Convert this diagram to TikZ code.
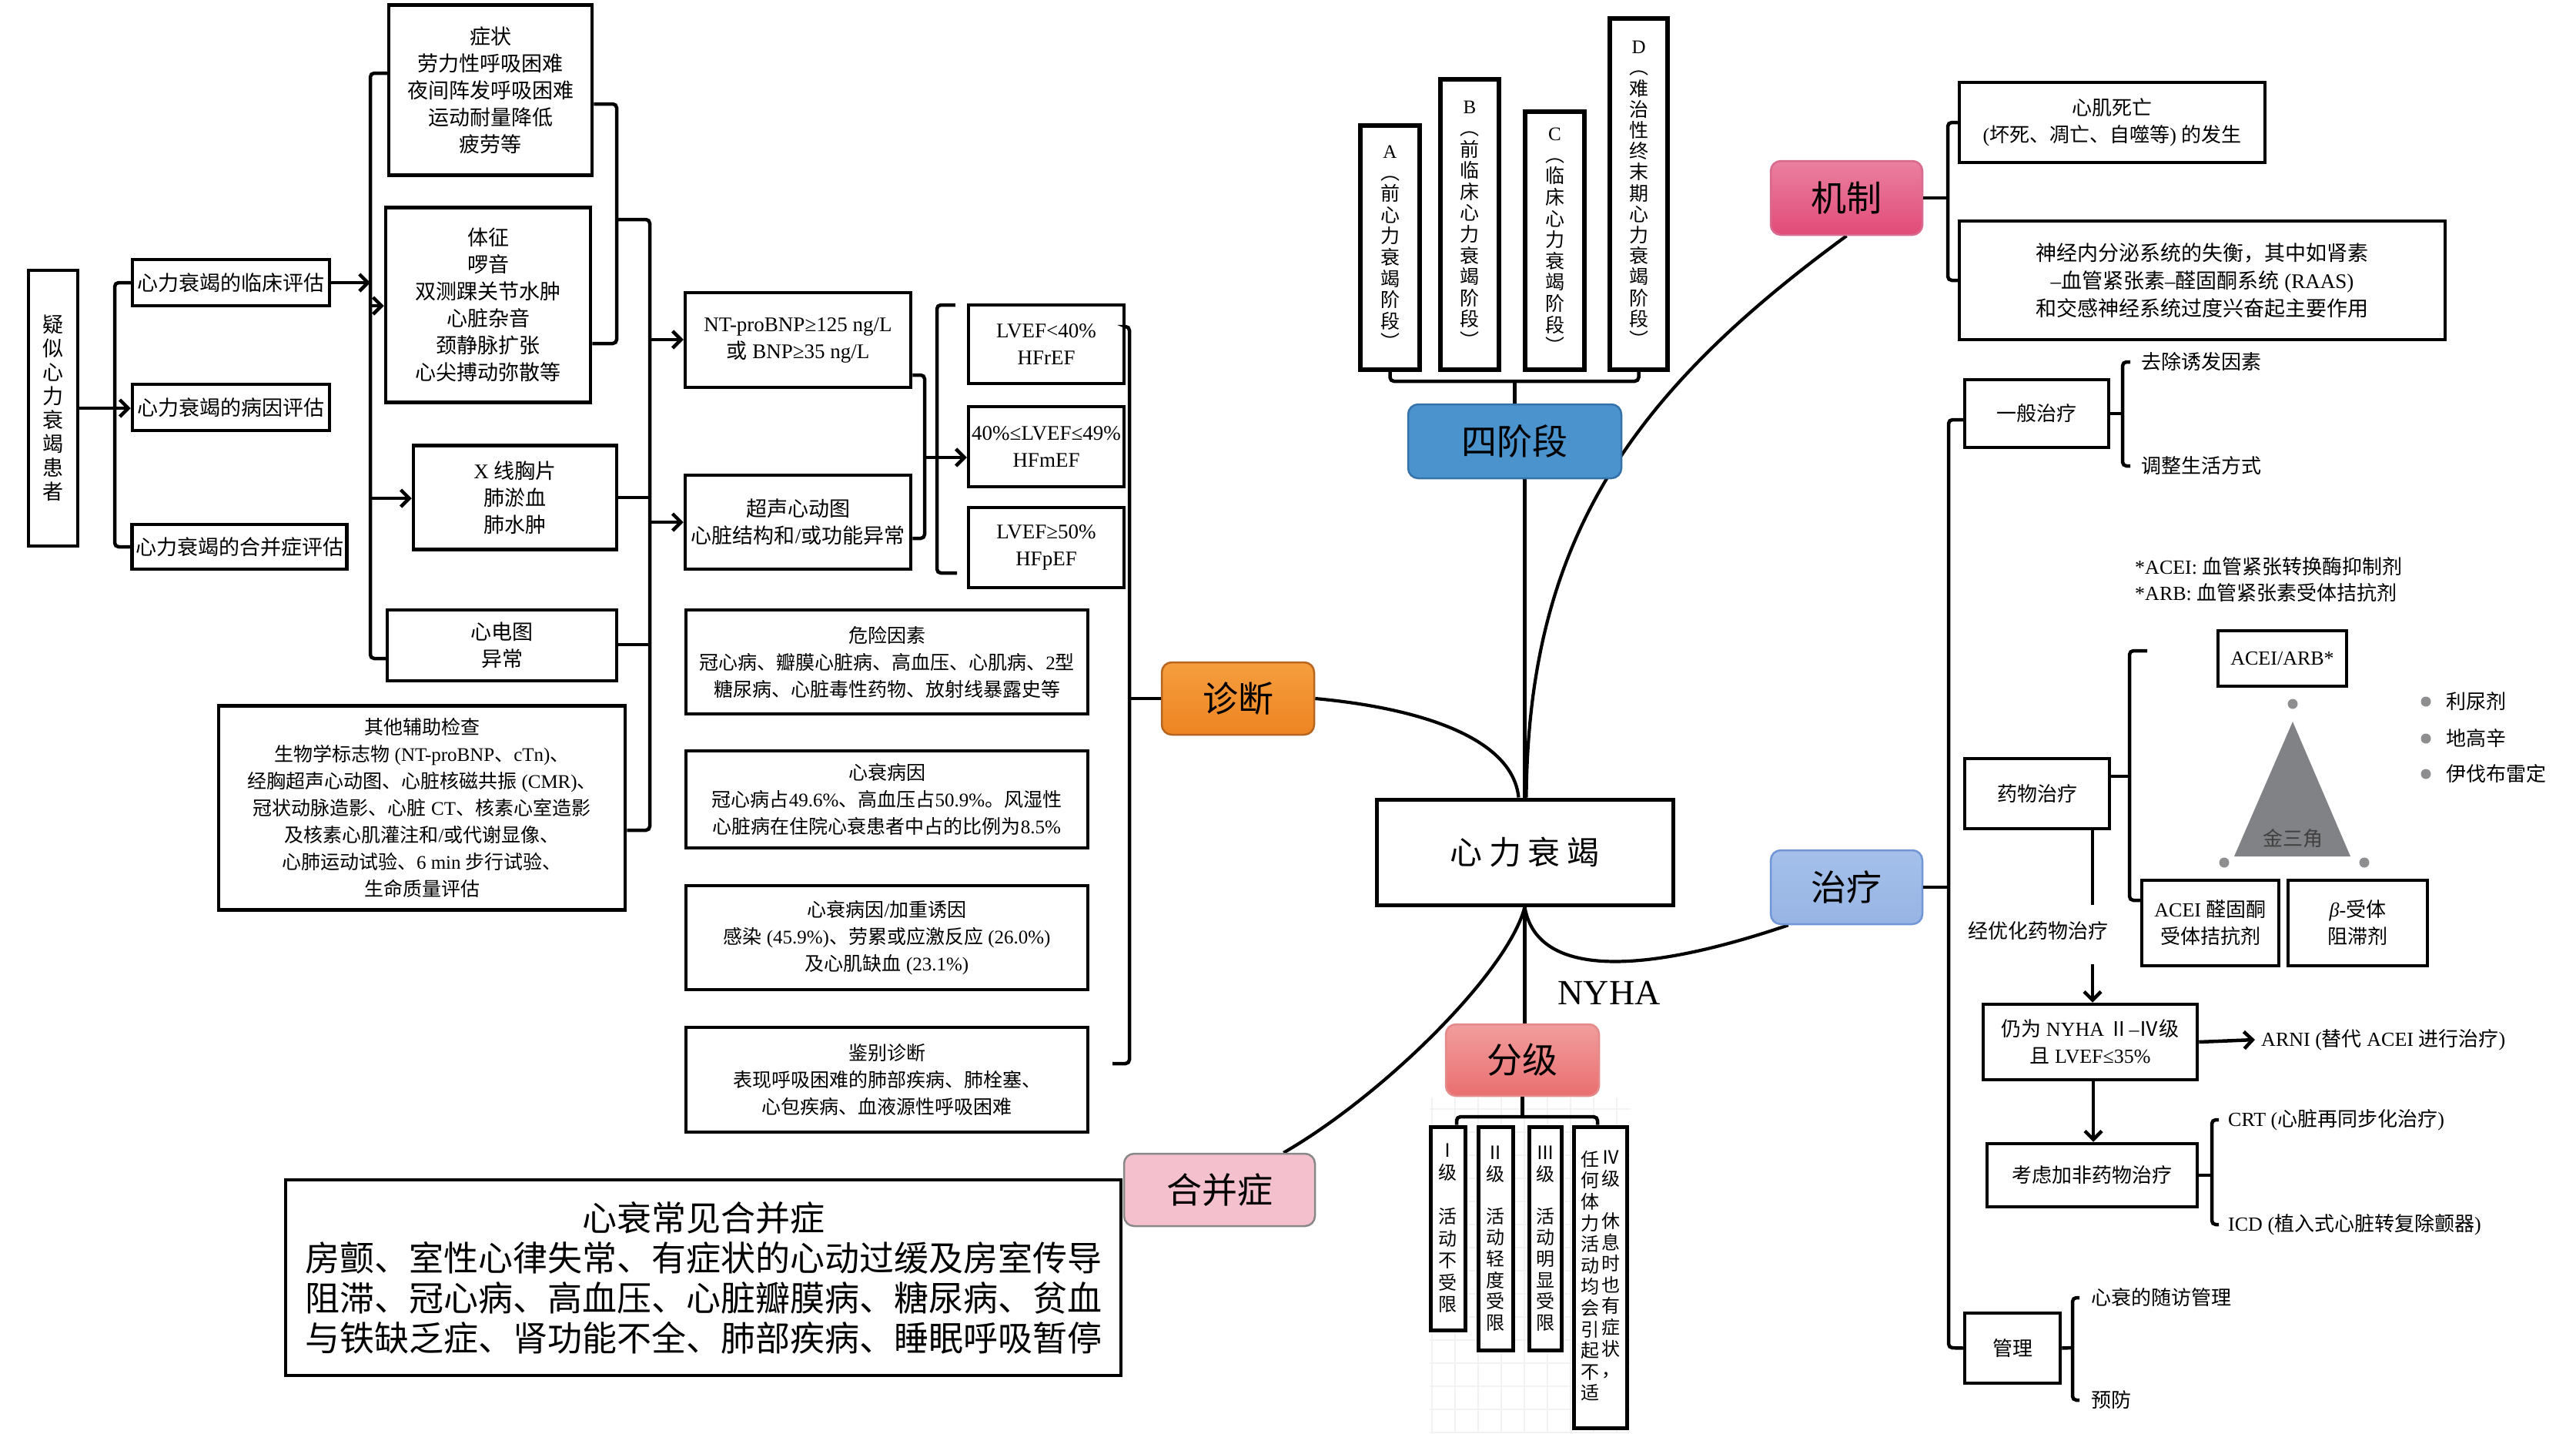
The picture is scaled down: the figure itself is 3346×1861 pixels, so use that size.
\documentclass[tikz,border=0pt]{standalone}
\usepackage{fontspec}
\setmainfont{Liberation Serif}
\newfontfamily\cjkf{Noto Sans CJK SC}
\usetikzlibrary{arrows.meta,calc}
\pgfdeclarelayer{bg}
\pgfsetlayers{bg,main}
\XeTeXinterchartokenstate=1
\chardef\cjkcls=7
\newcount\mycnt
\newcommand\setcjkrange[2]{\mycnt=#1\relax
  \loop\XeTeXcharclass\mycnt=\cjkcls\relax
  \ifnum\mycnt<#2\relax\advance\mycnt by 1\relax\repeat}
\setcjkrange{"2E80}{"9FFF}
\setcjkrange{"FF00}{"FFEF}
\setcjkrange{"FE30}{"FE4F}
\setcjkrange{"2150}{"218F}
\XeTeXinterchartoks 0 \cjkcls = {\cjkf}
\XeTeXinterchartoks 4095 \cjkcls = {\cjkf}
\XeTeXinterchartoks \cjkcls 0 = {\rmfamily}
\XeTeXinterchartoks \cjkcls 4095 = {\rmfamily}
\newcommand\myfs[2]{\fontsize{#1}{#2}\selectfont}
\definecolor{czd1}{HTML}{F59E3E}\definecolor{czd2}{HTML}{EE8422}\definecolor{czdb}{HTML}{B5651D}
\definecolor{csj}{HTML}{4A93CD}\definecolor{csjb}{HTML}{3572AA}
\definecolor{cjz1}{HTML}{EA80A0}\definecolor{cjz2}{HTML}{E14B78}\definecolor{cjzb}{HTML}{D86A8D}
\definecolor{czl1}{HTML}{A4C0EA}\definecolor{czl2}{HTML}{97B4E4}\definecolor{czlb}{HTML}{7196D8}
\definecolor{cfj1}{HTML}{F19D9D}\definecolor{cfj2}{HTML}{EA6F70}\definecolor{cfjb}{HTML}{E58A8A}
\definecolor{chb}{HTML}{F5C0CE}\definecolor{chbb}{HTML}{888888}
\definecolor{ctri}{HTML}{808285}\definecolor{cdot}{HTML}{8E8E90}
\tikzset{
  sz/.style 2 args={minimum width=#1pt,minimum height=#2pt},
  bx/.style={draw, fill=white, line width=4.5pt, inner sep=0pt, align=center, font=\myfs{27}{35}},
  hub/.style={draw, rounded corners=13pt, line width=2.5pt, inner sep=0pt, font=\myfs{46}{50}},
  ln/.style={line width=4.5pt, rounded corners=5pt},
  cv/.style={line width=4.2pt},
  arr/.style={line width=4.5pt, -{Straight Barb[length=11pt,width=22pt]}},
  lab/.style={inner sep=0pt, anchor=west, font=\myfs{26}{30}},
  vt/.style={inner sep=0pt, align=center, anchor=north, font=\myfs{24}{27.6}},
  stg/.style={bx, line width=6pt, font=\myfs{25}{27.6}},
}
\begin{document}
\begin{tikzpicture}[x=1pt,y=-1pt]
\useasboundingbox (0,0) rectangle (3346,1861);

% ---------------- left: diagnosis tree
\node[bx, sz={64}{358}, font=\myfs{27}{31}] (pat) at (69,530) {疑\\似\\心\\力\\衰\\竭\\患\\者};
\node[bx, sz={256}{60}] (lc) at (300,367) {心力衰竭的临床评估};
\node[bx, sz={256}{60}] (by) at (300,529) {心力衰竭的病因评估};
\node[bx, sz={279}{58}] (hb) at (311,710) {心力衰竭的合并症评估};

\node[bx, sz={264}{221}] (zz) at (637,117) {症状\\劳力性呼吸困难\\夜间阵发呼吸困难\\运动耐量降低\\疲劳等};
\node[bx, sz={266}{253}] (tz) at (634,396) {体征\\啰音\\双测踝关节水肿\\心脏杂音\\颈静脉扩张\\心尖搏动弥散等};
\node[bx, sz={264}{135}] (xx) at (669,646) {X 线胸片\\肺淤血\\肺水肿};
\node[bx, sz={298}{92}] (xd) at (652,838) {心电图\\异常};
\node[bx, sz={528}{265}, font=\myfs{25}{35}] (qt) at (548,1049) {其他辅助检查\\生物学标志物 (NT-proBNP、cTn)、\\经胸超声心动图、心脏核磁共振 (CMR)、\\冠状动脉造影、心脏 CT、核素心室造影\\及核素心肌灌注和/或代谢显像、\\心肺运动试验、6 min 步行试验、\\生命质量评估};

\node[bx, sz={293}{123}] (nt) at (1036.5,441.5) {NT-proBNP≥125 ng/L\\或 BNP≥35 ng/L};
\node[bx, sz={293}{122}] (cs) at (1036.5,678) {超声心动图\\心脏结构和/或功能异常};

\node[bx, sz={202}{102}] (L1) at (1359,447) {LVEF<40\%\\HFrEF};
\node[bx, sz={202}{104}] (L2) at (1359,580) {40\%≤LVEF≤49\%\\HFmEF};
\node[bx, sz={202}{104}] (L3) at (1359,711) {LVEF≥50\%\\HFpEF};

\node[bx, sz={522}{135}, font=\myfs{25}{35}] (wx) at (1152,859.5) {危险因素\\冠心病、瓣膜心脏病、高血压、心肌病、2型\\糖尿病、心脏毒性药物、放射线暴露史等};
\node[bx, sz={522}{126}, font=\myfs{25}{35}] (bya) at (1152,1038) {心衰病因\\冠心病占49.6\%、高血压占50.9\%。风湿性\\心脏病在住院心衰患者中占的比例为8.5\%};
\node[bx, sz={522}{135}, font=\myfs{25}{35}] (yy) at (1152,1217.5) {心衰病因/加重诱因\\感染 (45.9\%)、劳累或应激反应 (26.0\%)\\及心肌缺血 (23.1\%)};
\node[bx, sz={522}{136}, font=\myfs{25}{35}] (jb) at (1152,1402) {鉴别诊断\\表现呼吸困难的肺部疾病、肺栓塞、\\心包疾病、血液源性呼吸困难};

% connectors left
\draw[arr] (pat.east) -- (pat.east -| by.west);
\draw[ln] (lc.west) -| (149,710) -- (hb.west);
\draw[arr] (lc.east) -- (481,367);
\draw[ln] (zz.west |- 0,95) -| (481,855) -- (xd.west |- 0,855);
\draw[arr] (481,397) -- (tz.west |- 0,397);
\draw[arr] (481,647) -- (xx.west |- 0,647);
\draw[ln] (zz.east |- 0,135) -| (801,446) -- (tz.east |- 0,446);
\draw[ln] (801,285) -| (844,1078) -- (qt.east |- 0,1078);
\draw[ln] (xx.east) -- (844,646);
\draw[ln] (xd.east |- 0,837) -- (844,837);
\draw[arr] (844,441) -- (nt.west |- 0,441);
\draw[arr] (844,678) -- (cs.west);
\draw[ln] (nt.east |- 0,487) -| (1201,699) -- (cs.east |- 0,699);
\draw[arr] (1201,594) -- (L2.west |- 0,594);
\draw[ln] (L1.west |- 0,396) ++(-15,0) -- (1217,396) -- (1217,744) -- (1243,744);
\draw[ln] (L1.east |- 0,424) -| (1467,1381) -- (1445,1381);

% ---------------- hubs
\node[hub, top color=czd1, bottom color=czd2, draw=czdb, sz={198}{94}] (zd) at (1608,907) {诊断};
\draw[ln] (1467,907) -- (zd.west);

\node[bx, line width=5pt, sz={385}{137}, font=\myfs{42}{46}] (xl) at (1980.5,1106.5) {心\hspace{9pt}力\hspace{9pt}衰\hspace{9pt}竭};

% stages
\node[stg, sz={77}{317}] (sA) at (1805.5,321.5) {A\\︵\\前\\心\\力\\衰\\竭\\阶\\段\\︶};
\node[stg, sz={76}{377}] (sB) at (1909,291.5) {B\\︵\\前\\临\\床\\心\\力\\衰\\竭\\阶\\段\\︶};
\node[stg, sz={77}{335}] (sC) at (2019.5,312.5) {C\\︵\\临\\床\\心\\力\\衰\\竭\\阶\\段\\︶};
\node[stg, sz={75}{456}, font=\myfs{25}{27.2}] (sD) at (2128.5,252) {D\\︵\\难\\治\\性\\终\\末\\期\\心\\力\\衰\\竭\\阶\\段\\︶};
\node[hub, fill=csj, draw=csjb, sz={277}{96}] (sjd) at (1967.5,573) {四阶段};
\draw[ln] (sA.south) -- (sA.south |- 0,495) -| (sD.south);
\draw[ln] (sjd.north) -- (sjd.north |- 0,495);

% grades
\node[hub, top color=cfj1, bottom color=cfj2, draw=cfjb, sz={199}{93}] (fj) at (1977.5,1376.5) {分级};
\node[inner sep=0pt, font=\myfs{46}{50}] (nyha) at (2090,1289) {NYHA};
\node[bx, line width=5pt, sz={45}{264}, font=\myfs{24}{28.6}] (g1) at (1880.5,1595) {Ⅰ\\级\\\mbox{}\\活\\动\\不\\受\\限};
\node[bx, line width=5pt, sz={45}{290}, font=\myfs{24}{27.6}] (g2) at (1942.5,1608) {Ⅱ\\级\\\mbox{}\\活\\动\\轻\\度\\受\\限};
\node[bx, line width=5pt, sz={42}{290}, font=\myfs{24}{27.6}] (g3) at (2007,1608) {Ⅲ\\级\\\mbox{}\\活\\动\\明\\显\\受\\限};
\node[bx, line width=5pt, sz={69}{391}] (g4) at (2078.5,1658.5) {};
\node[vt] (g4r) at (2092,1494) {Ⅳ\\级\\\mbox{}\\休\\息\\时\\也\\有\\症\\状\\，};
\node[vt] (g4l) at (2065,1494) {任\\何\\体\\力\\活\\动\\均\\会\\引\\起\\不\\适};
\draw[ln] (fj.south) -- (fj.south |- 0,1450);
\draw[ln] (g1.north -| 1892,0) |- (2075,1450) -- (g4.north -| 2075,0);

% comorbidity
\node[hub, fill=chb, draw=chbb, sz={248}{94}] (hbz) at (1584,1545) {合并症};
\node[bx, sz={1085}{254}, font=\myfs{45}{52}] (hbx) at (913.5,1659) {心衰常见合并症\\房颤、室性心律失常、有症状的心动过缓及房室传导\\阻滞、冠心病、高血压、心脏瓣膜病、糖尿病、贫血\\与铁缺乏症、肾功能不全、肺部疾病、睡眠呼吸暂停};

% mechanism
\node[hub, top color=cjz1, bottom color=cjz2, draw=cjzb, sz={197}{96}] (jz) at (2398.5,257) {机制};
\node[bx, sz={397}{104}, font=\myfs{26}{35}] (sw) at (2743.5,159) {心肌死亡\\(坏死、凋亡、自噬等) 的发生};
\node[bx, sz={631}{154}, font=\myfs{27}{36}] (sj) at (2860.5,364) {神经内分泌系统的失衡，其中如肾素\\–血管紧张素–醛固酮系统 (RAAS)\\和交感神经系统过度兴奋起主要作用};
\draw[ln] (jz.east) -- (2530,257);
\draw[ln] (sw.west) -| (2530,364) -- (sj.west);

% treatment
\node[hub, top color=czl1, bottom color=czl2, draw=czlb, sz={197}{96}] (zl) at (2398.5,1152) {治疗};
\node[bx, sz={187}{88}, font=\myfs{26}{35}] (yb) at (2645.5,537) {一般治疗};
\node[bx, sz={188}{91}, font=\myfs{26}{35}] (yw) at (2646,1030.5) {药物治疗};
\node[bx, sz={124}{91}, font=\myfs{26}{35}] (gl) at (2614,1750.5) {管理};
\draw[ln] (zl.east) -- (2531,1152);
\draw[ln] (yb.west |- 0,545) -| (2531,1750) -- (gl.west);

\node[lab] (qc) at (2781,470) {去除诱发因素};
\node[lab] (tzs) at (2781,605) {调整生活方式};
\draw[ln] (yb.east) -- (2757,537);
\draw[ln] ($(qc.west)+(-14,0)$) -- ($(qc.west)+(-24,0)$) |- ($(tzs.west)+(-14,0)$);

\node[lab] (n1) at (2773,736) {*ACEI: 血管紧张转换酶抑制剂};
\node[lab] (n2) at (2773,770) {*ARB: 血管紧张素受体拮抗剂};

\node[bx, sz={167}{72}, font=\myfs{26}{35}] (ab) at (2964.5,855) {ACEI/ARB*};
\fill[ctri] (2978,937) -- (2902,1112) -- (3053,1112) -- cycle;
\node[inner sep=0pt, font=\myfs{26}{30}, text=black!75] (jsj) at (2978,1089) {金三角};
\fill[cdot] (2978,914) circle (6.5);
\fill[cdot] (2889,1120) circle (6.5);
\fill[cdot] (3071,1120) circle (6.5);
\fill[cdot] (3151,911) circle (6.5);
\fill[cdot] (3151,959) circle (6.5);
\fill[cdot] (3151,1005) circle (6.5);
\node[lab] (b1) at (3177,911) {利尿剂};
\node[lab] (b2) at (3177,959) {地高辛};
\node[lab] (b3) at (3177,1005) {伊伐布雷定};

\node[bx, sz={178}{111}, font=\myfs{26}{35}] (ac) at (2871,1198.5) {ACEI 醛固酮\\受体拮抗剂};
\node[bx, sz={181}{111}, font=\myfs{26}{35}] (bt) at (3062.5,1198.5) {\textit{β}-受体\\阻滞剂};
\coordinate (tk) at (2789,845);
\draw[ln] (yw.east |- 0,1008) -- (2766,1008);
\draw[ln] (tk) -| (2766,1169) -- (ac.west |- 0,1169);

\node[inner sep=0pt, font=\myfs{26}{30}] (jyh) at (2647,1209) {经优化药物治疗};
\coordinate (je) at (2718,1175);
\coordinate (js) at (2718,1252);
\draw[line width=4.5pt] (yw.south -| je) -- (je);
\node[bx, sz={278}{98}, font=\myfs{26}{35}] (ny) at (2715,1353) {仍为 NYHA Ⅱ–Ⅳ级\\且 LVEF≤35\%};
\draw[arr] (js) -- (ny.north -| js);
\node[lab] (arni) at (2937,1350) {ARNI (替代 ACEI 进行治疗)};
\draw[arr] (ny.east) -- ($(arni.west)+(-8,0)$);
\node[bx, sz={273}{82}, font=\myfs{26}{35}] (kl) at (2717.5,1526) {考虑加非药物治疗};
\draw[arr] (ny.south -| 2719,0) -- (kl.north -| 2719,0);
\node[lab] (crt) at (2894,1454) {CRT (心脏再同步化治疗)};
\node[lab] (icd) at (2894,1590) {ICD (植入式心脏转复除颤器)};
\draw[ln] (kl.east) -- (2873,1526);
\draw[ln] ($(crt.west)+(-12,0)$) -- ($(crt.west)+(-21,0)$) |- ($(icd.west)+(-12,0)$);
\node[lab] (sf) at (2716,1685) {心衰的随访管理};
\node[lab] (yf) at (2716,1818) {预防};
\draw[ln] (gl.east) -- (2692,1750);
\draw[ln] ($(sf.west)+(-15,0)$) -- ($(sf.west)+(-24,0)$) |- ($(yf.west)+(-15,0)$);

% ---------------- background layer: white, grid, curves
\begin{pgfonlayer}{bg}
\fill[white] (0,0) rectangle (3346,1861);
\draw[black!5, line width=1.5pt] (1857,1425) grid[step=30pt] (2117,1861);
\draw[cv] (xl.north) -- (xl.north |- sjd.south);
\draw[cv] (xl.south) -- (xl.south |- fj.north);
\draw[cv] (zd.east) .. controls (1850,920) and (1965,960) .. ($(xl.north)+(-8,0)$);
\draw[cv] (jz.south) .. controls (2120,510) and (1985,700) .. ($(xl.north)+(2,0)$);
\draw[cv] (xl.south) .. controls (1995,1265) and (2120,1270) .. ($(zl.south west)+(24,0)$);
\draw[cv] ($(hbz.north east)+(-42,0)$) .. controls (1800,1420) and (1960,1260) .. (xl.south);
\end{pgfonlayer}
\end{tikzpicture}
\end{document}
